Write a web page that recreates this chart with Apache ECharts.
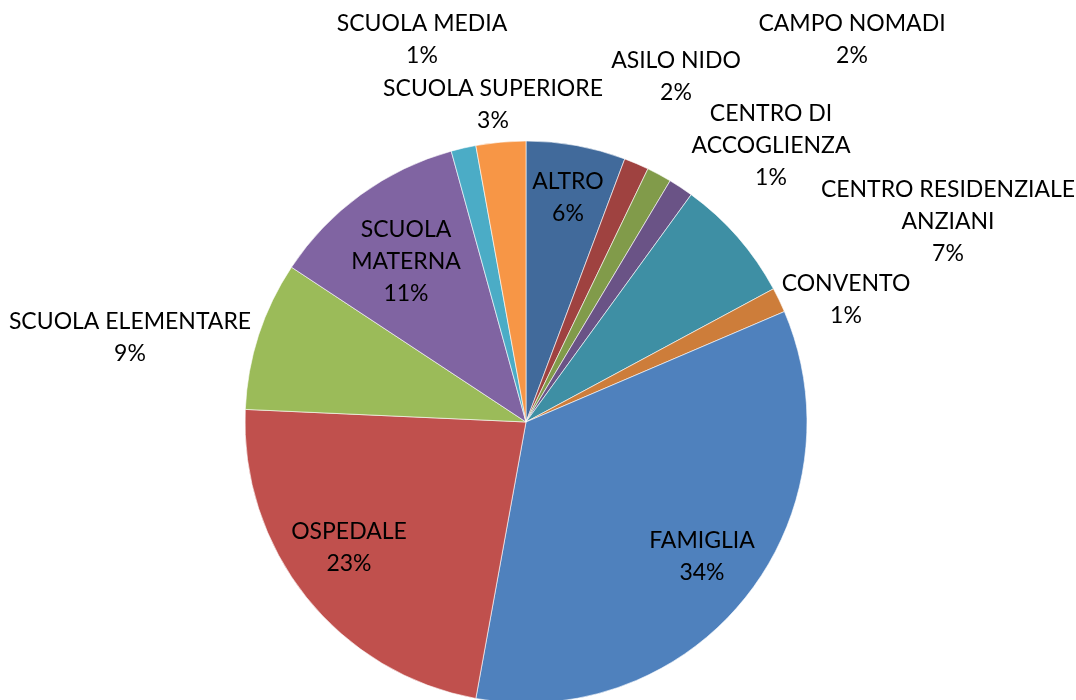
<!DOCTYPE html>
<html>
<head>
<meta charset="utf-8">
<script src="https://cdn.jsdelivr.net/npm/echarts@6/dist/echarts.min.js"></script>
<style>
  html, body { margin: 0; padding: 0; background: #fff; }
  #chart { width: 1076px; height: 700px; }
</style>
</head>
<body>
<div id="chart"></div>
<script>
// categories (wrapped as in the original labels)
const categories = [
  "ALTRO", "ASILO NIDO", "CAMPO NOMADI", "CENTRO DI\nACCOGLIENZA",
  "CENTRO RESIDENZIALE\nANZIANI", "CONVENTO", "FAMIGLIA", "OSPEDALE",
  "SCUOLA ELEMENTARE", "SCUOLA\nMATERNA", "SCUOLA MEDIA", "SCUOLA SUPERIORE",
];
// counts
const counts = [4, 1, 1, 1, 5, 1, 24, 16, 6, 8, 1, 2];
// percentages as printed on the labels
const shownPct = [6, 2, 2, 1, 7, 1, 34, 23, 9, 11, 1, 3];

const colors = [
  "#416A9B", "#9F4240", "#819B4A", "#6A5386", "#3E8FA4", "#CD7D3A",
  "#4F81BD", "#C0504D", "#9BBB59", "#8064A2", "#4BACC6", "#F79646",
];

// label anchor points (centre of each text block), same order as categories
const labelPos = [
  [568, 198], [676, 77], [852, 40], [771, 146], [948, 222], [846, 300],
  [702, 557], [349, 548], [130, 338], [406, 262], [422, 40], [493, 105],
];

const chart = echarts.init(document.getElementById("chart"));

chart.setOption({
  animation: false,
  color: colors,
  series: [
    {
      type: "pie",
      center: [526, 422],
      radius: 281,
      startAngle: 90,
      clockwise: true,
      data: categories.map((name, i) => ({ name, value: counts[i] })),
      itemStyle: { borderColor: "#ffffff", borderWidth: 0.6 },
      label: {
        show: true,
        position: "outside",
        color: "#000",
        fontFamily: "Lato",
        fontSize: 23,
        lineHeight: 32,
        align: "center",
        overflow: "none",
        formatter: (p) => `${p.name}\n${shownPct[p.dataIndex]}%`,
      },
      labelLine: { show: false },
      labelLayout: (params) => ({
        x: labelPos[params.dataIndex][0],
        y: labelPos[params.dataIndex][1],
        align: "center",
        verticalAlign: "middle",
      }),
    },
  ],
});
</script>
</body>
</html>
